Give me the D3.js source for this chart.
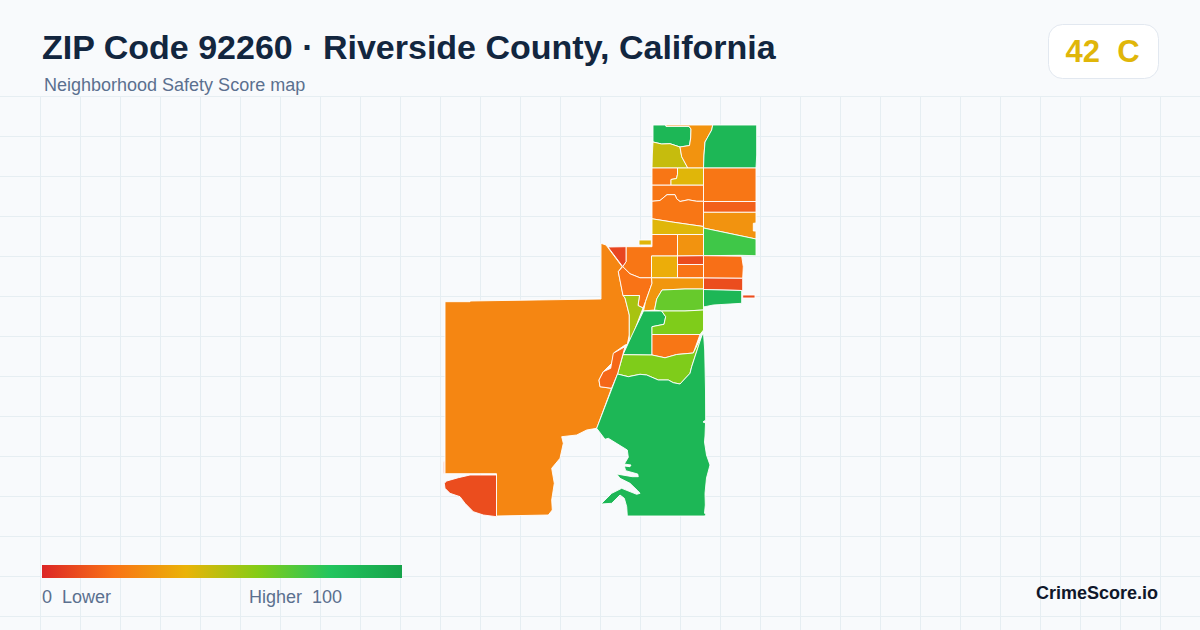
<!DOCTYPE html>
<html>
<head>
<meta charset="utf-8">
<title>ZIP Code 92260</title>
<script src="https://cdn.jsdelivr.net/npm/d3@7"></script>
<style>
  html, body { margin: 0; padding: 0; background: #f8fafc; }
  svg { display: block; }
  text { font-family: "Liberation Sans", Arial, sans-serif; white-space: pre; }
</style>
</head>
<body>
<div id="chart"></div>
<script>
// Text
var titleText = "ZIP Code 92260 \u00b7 Riverside County, California";
var subtitleText = "Neighborhood Safety Score map";
var brandText = "CrimeScore.io";
var overallScore = 42;
var overallGrade = "C";

// Colour legend
var legendStops = [0, 20, 40, 60, 80, 100];
var legendColors = ["#dc2626", "#f97316", "#eab308", "#84cc16", "#22c55e", "#16a34a"];
var legendLeftLabel = "0  Lower";
var legendRightLabel = "Higher  100";

// Neighborhood scores, same order as tractRings
var tractScores = [
  88, 47, 30, 88, 21, 42, 21, 15, 30, 74,
  21, 21, 42, 21, 30, 42, 8, 26, 8, 20,
  53, 38, 10, 20, 19, 10, 10, 88, 31, 66,
  88, 61, 21, 61, 17, 88, 10
];

// Neighborhood outlines in map units
var tractRings = [
  [[213,5],[225.5,5],[226,6.3],[249,6.3],[251,9],[250.7,18],[249.5,25.5],[240,27],[230,23.7],[221.7,24],[213,22]],
  [[213,22],[221.7,24],[230,23.7],[240,27],[241.7,36.7],[247.8,48],[212,48],[212.3,35]],
  [[226,5],[272.7,5],[271.7,10],[265,22],[264,35],[263.5,48],[247.8,48],[241.7,36.7],[240,27],[249.5,25.5],[250.7,18],[251,9],[249,6.3],[226,6.3]],
  [[272.7,5],[316.7,5],[316.7,35],[316,48],[263.5,48],[264,35],[265,22],[271.7,10]],
  [[212,48],[237.5,48],[237.5,54.3],[236.5,58.5],[231,59.5],[231,65.2],[212,65.2]],
  [[237.5,48],[263.5,48],[263.5,65.2],[231,65.2],[231,59.5],[236.5,58.5],[237.5,54.3]],
  [[263.5,48],[316,48],[316,81.5],[263.5,81.5]],
  [[263.5,81.5],[316,81.5],[316,92.3],[263.5,92.3]],
  [[263.5,92.3],[316,92.3],[316,103],[313.3,103.3],[313.3,111],[316,111],[316,119],[263.5,108]],
  [[263.5,108],[316,119],[316,135.7],[300,135.3],[263.5,135.7]],
  [[212,65.2],[263.5,65.2],[263.5,81.3],[256.7,81.3],[248.3,79.8],[240,81.5],[236.7,78.8],[235,74.7],[227,74.7],[220,80.5],[212,81.3]],
  [[212,81.3],[220,80.5],[227,74.7],[235,74.7],[236.7,78.8],[240,81.5],[248.3,79.8],[256.7,81.3],[263.5,81.3],[263.5,106.5],[233.3,102.2],[212,98.8]],
  [[212,98.8],[233.3,102.2],[263.5,106.5],[263.5,114.5],[212,114.5]],
  [[212,114.5],[237.5,114.5],[237.5,136],[211.5,136],[211.5,157.8],[200,157.8],[190,153.8],[182.7,146.6],[186,141.7],[186,126.7],[212,126.7]],
  [[237.5,114.5],[263.5,114.5],[263.5,135.7],[237.5,136]],
  [[199,120],[211.3,120],[211.3,125],[199,125]],
  [[168,127],[186,126.7],[186,141.7],[182.7,146.6]],
  [[161,123.3],[166,125],[182,146.6],[178.3,151.7],[183,175],[185,178],[189.3,195],[189.3,215],[187.3,224.3],[185,225],[174,232.7],[171.7,243.3],[163.3,251.7],[159,260],[160,266.7],[171.5,268.3],[156.7,308.3],[146.7,310],[136.7,315],[121.7,316.7],[123.3,323.3],[120,338.3],[111.7,348.3],[114.3,363.3],[111.7,380],[112.3,390],[108.3,395],[56.5,396],[56.5,353.7],[5,353.7],[5,181.7],[30,181.7],[30,181],[161,179]],
  [[3.3,341.7],[4.3,341.7],[4.3,353.3],[3.3,353.3]],
  [[178.3,151.7],[182.7,146.6],[190,153.8],[200,157.8],[211.5,157.8],[212,163.3],[205.5,181.7],[203,188],[198,185.5],[199.5,175.5],[183,175.5]],
  [[183,175.5],[199.5,175.5],[198,185.5],[203,188],[189.3,224],[189.3,195],[185,178]],
  [[211.5,136],[237.5,136],[237.5,157.8],[211.5,157.8]],
  [[237.5,136],[263.5,135.7],[263.5,144.5],[237.5,144.5]],
  [[237.5,144.5],[263.5,144.5],[263.5,157.8],[237.5,157.8]],
  [[263.5,135.7],[301.7,136.2],[303.3,146.7],[302.7,158.3],[263.5,158]],
  [[263.5,158],[302.7,158.3],[302.7,170.5],[263.5,169.5]],
  [[302.7,175],[315,175],[315,178],[302.7,178]],
  [[263.5,169.5],[301.7,170.5],[301.7,183.3],[290,184],[273.3,185],[265,186.7],[263.5,186.7]],
  [[211.5,157.8],[263.5,158],[263.5,169],[245,169],[222,170],[216.7,179],[214.5,190],[203.5,191],[205.5,181.7],[212,163.3]],
  [[222,170],[245,169],[263.5,169],[263.5,190],[245,191],[221.7,191],[214.5,190],[216.7,179]],
  [[203.5,191],[221.7,191],[225.7,196.7],[224,204.3],[212,206.7],[212,235],[183,234.7],[192,215]],
  [[221.7,191],[245,191],[263.5,190],[263.5,210],[260,214.5],[212,214.5],[212,206.7],[224,204.3],[225.7,196.7]],
  [[212,214.5],[260,214.5],[253.3,233],[236.7,234.5],[225,237.8],[212,235]],
  [[183,234.7],[212,235],[225,237.8],[236.7,234.5],[253.3,233],[261.7,216],[251.7,246.7],[250,253.3],[240,264],[233.3,262.7],[228.3,260],[218.3,260],[206.7,255],[200,254.3],[188.3,256.7],[177.5,254]],
  [[185,226.7],[177.5,254],[171.5,268.3],[160,266.7],[159,260],[163.3,251.7],[170.7,248.3],[173.3,233.3]],
  [[263.5,213],[264.7,230],[265.5,270],[265.7,300],[263,302],[265.5,303],[265,316],[264.5,322],[266.5,335],[270,345],[266.5,358],[265,373.3],[265.3,385],[264.5,393.3],[266,394],[265,396],[187.3,396],[186.7,386.7],[184.3,378.3],[180,375],[171.7,383.3],[161,384],[171.7,373.3],[181.7,368.3],[196.7,374.3],[200,373.3],[197.7,370.7],[190,363.3],[180,358.3],[176.7,354],[192.3,356.7],[198.3,356.7],[197.7,354],[185.7,350.7],[184.3,346],[190,346.7],[191,345],[184.3,344],[188.3,337.3],[187.3,330],[168.3,318.3],[165,319.3],[156.7,308.3],[177.5,254],[188.3,256.7],[200,254.3],[206.7,255],[218.3,260],[228.3,260],[233.3,262.7],[240,264],[250,253.3],[251.7,246.7],[261.7,216]],
  [[4.3,363.3],[6.7,361],[18.3,357.7],[30,355],[56.5,355],[56.5,396.7],[43.3,395],[33.3,391.7],[25,383.3],[20,376.7],[10,373.3],[5,368.3]]
];

var width = 1200;
var height = 630;

var svg = d3.select("#chart")
  .append("svg")
  .attr("width", width)
  .attr("height", height);

svg.append("rect")
  .attr("width", width)
  .attr("height", height)
  .attr("fill", "#f8fafc");

// Background grid
var grid = svg.append("g")
  .attr("stroke", "#e6eef2")
  .attr("stroke-width", 1);

grid.selectAll("line.v")
  .data(d3.range(40, width, 40))
  .join("line")
  .attr("class", "v")
  .attr("x1", d => d + 0.5)
  .attr("x2", d => d + 0.5)
  .attr("y1", 96)
  .attr("y2", height);

grid.selectAll("line.h")
  .data(d3.range(96, height, 40))
  .join("line")
  .attr("class", "h")
  .attr("x1", 0)
  .attr("x2", width)
  .attr("y1", d => d + 0.5)
  .attr("y2", d => d + 0.5);

// Scales
var xMap = d3.scaleLinear().domain([0, 330]).range([440, 770]);
var yMap = d3.scaleLinear().domain([0, 400]).range([120, 520]);
var colorScale = d3.scaleLinear().domain(legendStops).range(legendColors);

var ringPath = d3.line()
  .x(d => xMap(d[0]))
  .y(d => yMap(d[1]));

// Map
svg.append("g")
  .selectAll("path")
  .data(tractRings)
  .join("path")
  .attr("d", d => ringPath(d) + "Z")
  .attr("fill", (d, i) => colorScale(tractScores[i]))
  .attr("stroke", "#ffffff")
  .attr("stroke-width", 0.9)
  .attr("stroke-linejoin", "round");

// Header
svg.append("text")
  .attr("x", 42)
  .attr("y", 59)
  .attr("font-size", 34)
  .attr("font-weight", 700)
  .attr("fill", "#12263f")
  .text(titleText);

svg.append("text")
  .attr("x", 44)
  .attr("y", 91)
  .attr("font-size", 18)
  .attr("fill", "#5b708f")
  .text(subtitleText);

// Grade badge
svg.append("rect")
  .attr("x", 1048.5)
  .attr("y", 24.5)
  .attr("width", 110)
  .attr("height", 54)
  .attr("rx", 14)
  .attr("fill", "#ffffff")
  .attr("stroke", "#e2e8f0");

svg.append("text")
  .attr("x", 1102.5)
  .attr("y", 62)
  .attr("text-anchor", "middle")
  .attr("font-size", 31)
  .attr("font-weight", 700)
  .attr("fill", colorScale(overallScore))
  .text(overallScore + "  " + overallGrade);

// Legend
var legendScale = d3.scaleLinear().domain([0, 100]).range([42, 402]);

var gradient = svg.append("defs")
  .append("linearGradient")
  .attr("id", "legend-gradient");

gradient.selectAll("stop")
  .data(legendStops)
  .join("stop")
  .attr("offset", d => d + "%")
  .attr("stop-color", (d, i) => legendColors[i]);

svg.append("rect")
  .attr("x", legendScale(0))
  .attr("y", 565)
  .attr("width", legendScale(100) - legendScale(0))
  .attr("height", 13)
  .attr("fill", "url(#legend-gradient)");

svg.append("text")
  .attr("x", 42)
  .attr("y", 603)
  .attr("font-size", 18)
  .attr("fill", "#5b708f")
  .text(legendLeftLabel);

svg.append("text")
  .attr("x", 249)
  .attr("y", 603)
  .attr("font-size", 18)
  .attr("fill", "#5b708f")
  .text(legendRightLabel);

// Brand
svg.append("text")
  .attr("x", 1158)
  .attr("y", 599)
  .attr("text-anchor", "end")
  .attr("font-size", 18)
  .attr("font-weight", 700)
  .attr("fill", "#0f172a")
  .text(brandText);
</script>
</body>
</html>
